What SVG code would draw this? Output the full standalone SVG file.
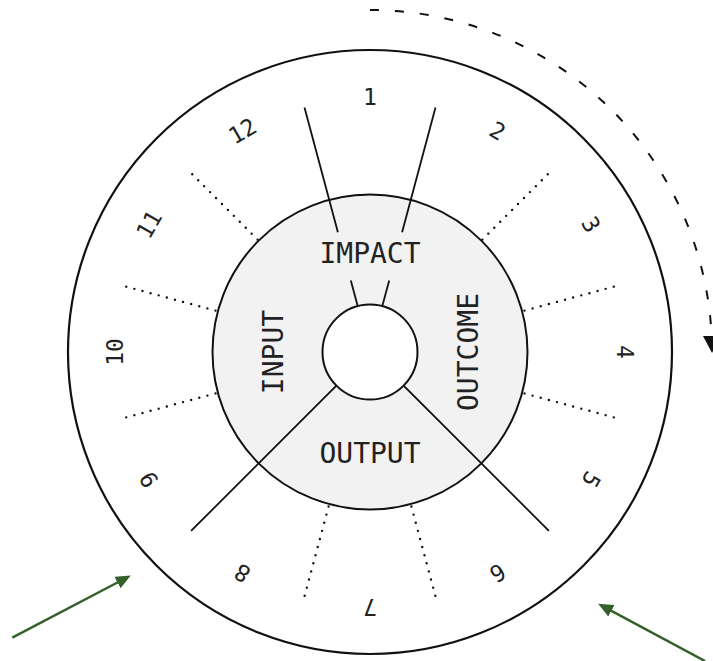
<svg xmlns="http://www.w3.org/2000/svg" width="713" height="661" viewBox="0 0 713 661">
<style>
.ring{fill:none;stroke:#111;stroke-width:2.2}
.inner{fill:#f2f2f2;stroke:#111;stroke-width:2}
.hub{fill:#fff;stroke:#111;stroke-width:2}
.solid{stroke:#111;stroke-width:1.8;fill:none}
.dots{stroke:#111;stroke-width:2.4;stroke-linecap:round;stroke-dasharray:0 8.4;fill:none}
.num{font-family:"DejaVu Sans Mono","Liberation Mono",monospace;font-size:23px;fill:#222;text-anchor:middle}
.big{font-family:"DejaVu Sans Mono","Liberation Mono",monospace;font-size:28px;fill:#222;text-anchor:middle}
.cycle{fill:none;stroke:#111;stroke-width:2;stroke-dasharray:9 16}
.green{fill:none;stroke:#34612b;stroke-width:2.5}
</style>
<defs>
<marker id="blackHead" markerUnits="userSpaceOnUse" viewBox="0 0 17 18" markerWidth="17" markerHeight="18" refX="16" refY="9" orient="auto">
<path d="M0,0 L17,9 L0,18 z" fill="#111"/>
</marker>
<marker id="greenHead" markerUnits="userSpaceOnUse" viewBox="0 0 15 13" markerWidth="15" markerHeight="13" refX="1" refY="6.5" orient="auto">
<path d="M0,0 L15,6.5 L0,13 z" fill="#34612b"/>
</marker>
</defs>

<g id="outer-ring">
<circle class="ring" cx="370" cy="352" r="302"/>
</g>
<g id="core">
<circle class="inner" cx="370" cy="352" r="157.5"/>
</g>

<g id="connectors">
<line class="solid" x1="304.5" y1="107.6" x2="337.9" y2="232.2"/>
<line class="solid" x1="350.8" y1="280.5" x2="357.7" y2="306.1"/>
<line class="solid" x1="435.5" y1="107.6" x2="402.1" y2="232.2"/>
<line class="solid" x1="389.2" y1="280.5" x2="382.3" y2="306.1"/>
<line class="solid" x1="403.6" y1="385.6" x2="548.9" y2="530.9"/>
<line class="solid" x1="336.4" y1="385.6" x2="191.1" y2="530.9"/>
<line class="dots" x1="482.4" y1="239.6" x2="548.9" y2="173.1"/>
<line class="dots" x1="524.5" y1="310.6" x2="614.4" y2="286.5"/>
<line class="dots" x1="524.5" y1="393.4" x2="614.4" y2="417.5"/>
<line class="dots" x1="411.4" y1="506.5" x2="435.5" y2="596.4"/>
<line class="dots" x1="328.6" y1="506.5" x2="304.5" y2="596.4"/>
<line class="dots" x1="215.5" y1="393.4" x2="125.6" y2="417.5"/>
<line class="dots" x1="215.5" y1="310.6" x2="125.6" y2="286.5"/>
<line class="dots" x1="257.6" y1="239.6" x2="191.1" y2="173.1"/>
<path class="cycle" d="M370,10 A342,342 0 0 1 712,352" marker-end="url(#blackHead)"/>
<path class="green" d="M12.3,637.7 L118.4,582.0" marker-end="url(#greenHead)"/>
<path class="green" d="M705,661 L610.5,610.4" marker-end="url(#greenHead)"/>
</g>

<g id="hub">
<circle class="hub" cx="370" cy="352" r="47.5"/>
</g>

<g id="impact"><text class="big" x="370" y="263">IMPACT</text></g>
<g id="output"><text class="big" x="370" y="463">OUTPUT</text></g>
<g id="input"><text class="big" transform="translate(273,352) rotate(-90)" x="0" y="10">INPUT</text></g>
<g id="outcome"><text class="big" transform="translate(468,352) rotate(-90)" x="0" y="10">OUTCOME</text></g>

<g id="months">
<text class="num" x="370" y="105">1</text>
<text class="num" x="370" y="105" transform="rotate(30 370 352)">2</text>
<text class="num" x="370" y="105" transform="rotate(60 370 352)">3</text>
<text class="num" x="370" y="105" transform="rotate(90 370 352)">4</text>
<text class="num" x="370" y="105" transform="rotate(120 370 352)">5</text>
<text class="num" x="370" y="105" transform="rotate(150 370 352)">6</text>
<text class="num" x="370" y="105" transform="rotate(180 370 352)">7</text>
<text class="num" x="370" y="105" transform="rotate(210 370 352)">8</text>
<text class="num" x="370" y="105" transform="rotate(240 370 352)">9</text>
<text class="num" x="370" y="105" transform="rotate(270 370 352)">10</text>
<text class="num" x="370" y="105" transform="rotate(300 370 352)">11</text>
<text class="num" x="370" y="105" transform="rotate(330 370 352)">12</text>
</g>
</svg>
